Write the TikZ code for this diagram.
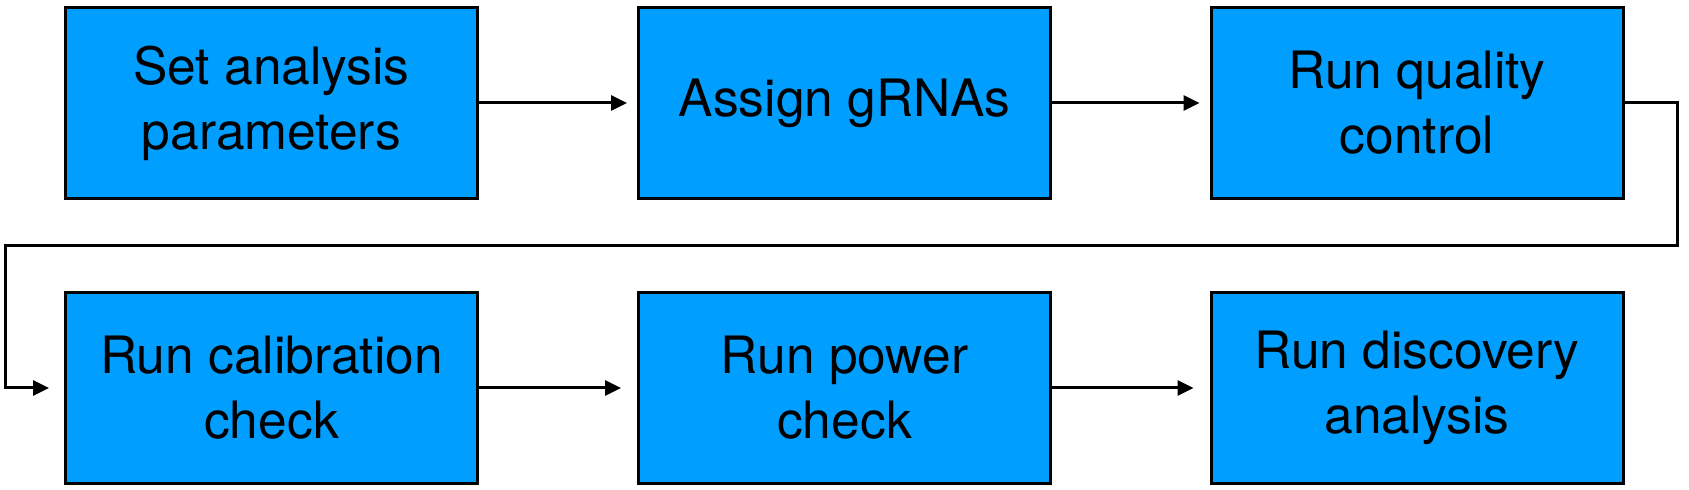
\documentclass[tikz,border=0pt]{standalone}
\usepackage{fontspec}
\setmainfont{TeX Gyre Heros}
\usetikzlibrary{arrows.meta}
\definecolor{boxblue}{RGB}{0,159,255}
\begin{document}
\begin{tikzpicture}[x=0.5pt,y=-0.5pt,
  stepbox/.style={draw=black, fill=boxblue, line width=1.5pt, rectangle,
    minimum width=206pt, minimum height=95.5pt, inner sep=0pt, align=center,
    font=\fontsize{25.75pt}{32.5pt}\selectfont},
  conn/.style={line width=1.5pt, -{Triangle[length=8pt,width=7.5pt]}}]
\useasboundingbox (0,0) rectangle (1689,490);
\node[stepbox] (b1) at (271.5,103) {Set analysis\\parameters};
\node[stepbox] (b2) at (844.5,103) {Assign gRNAs};
\node[stepbox] (b3) at (1417,103) {Run quality\\control};
\node[stepbox] (b4) at (271.5,388) {Run calibration\\check};
\node[stepbox] (b5) at (844.5,388) {Run power\\check};
\node[stepbox] (b6) at (1417,388) {Run discovery\\analysis};
\coordinate (loopR) at (1677,245.6);
\coordinate (loopL) at (5,245.6);
\draw[conn, shorten >=5pt] (b1.east) -- (b2.west);
\draw[conn, shorten >=5pt] (b2.east) -- (b3.west);
\draw[conn, shorten >=8pt] (b4.east) -- (b5.west);
\draw[conn, shorten >=8pt] (b5.east) -- (b6.west);
\draw[conn, shorten >=7.5pt] (b3.east) -| (loopR) -- (loopL) |- (b4.west);
\end{tikzpicture}
\end{document}
